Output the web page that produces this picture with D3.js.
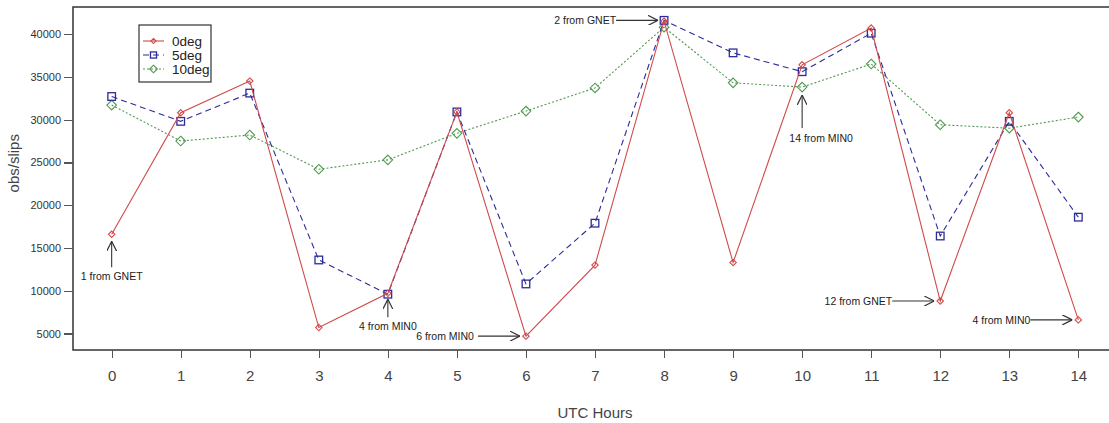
<!DOCTYPE html>
<html>
<head>
  <meta charset="utf-8" />
  <title>obs/slips by UTC hour</title>
  <script src="https://d3js.org/d3.v7.min.js"></script>
  <style>
    body { margin: 0; background: #fff; }
    svg { display: block; font-family: "Liberation Sans", Arial, sans-serif; }
    .axis path, .axis line { stroke: #555; stroke-width: 1.2; shape-rendering: crispEdges; }
    .axis text { fill: #333; }
  </style>
</head>
<body>
<div id="chart"></div>
<script>
  // data
  var hours = [0, 1, 2, 3, 4, 5, 6, 7, 8, 9, 10, 11, 12, 13, 14];
  var deg0  = [16600, 30800, 34500, 5700, 9700, 30900, 4700, 13000, 41500, 13300, 36400, 40700, 8800, 30800, 6600];
  var deg5  = [32700, 29800, 33100, 13600, 9600, 30900, 10800, 17900, 41600, 37800, 35600, 40100, 16400, 29800, 18600];
  var deg10 = [31700, 27500, 28200, 24200, 25300, 28400, 31000, 33700, 40800, 34300, 33800, 36500, 29400, 29000, 30300];
  var yTicks = [5000, 10000, 15000, 20000, 25000, 30000, 35000, 40000];
  var seriesNames = ["0deg", "5deg", "10deg"];

  // annotations: label, target point, where the arrow comes from
  // (below: tip/tail/text offsets in px; left: gap between text and arrow tail)
  var notes = [
    { label: "1 from GNET",  hour: 0,  value: 16600, dir: "below", tip: 7, tail: 33, text: 46, dx: 0 },
    { label: "4 from MIN0",  hour: 4,  value: 9600,  dir: "below", tip: 5, tail: 23, text: 36, dx: 0 },
    { label: "6 from MIN0",  hour: 6,  value: 4700,  dir: "left",  gap: 4 },
    { label: "2 from GNET",  hour: 8,  value: 41600, dir: "left",  gap: 0 },
    { label: "14 from MIN0", hour: 10, value: 33800, dir: "below", tip: 8, tail: 41, text: 55, dx: 19 },
    { label: "12 from GNET", hour: 12, value: 8800,  dir: "left",  gap: 0 },
    { label: "4 from MIN0",  hour: 14, value: 6600,  dir: "left",  gap: 0 }
  ];

  var width = 1109, height = 423;
  var margin = { top: 7, left: 73, bottom: 73 };

  var svg = d3.select("#chart").append("svg")
    .attr("width", width)
    .attr("height", height);

  var x = d3.scaleLinear().domain([-0.56, 14.56]).range([margin.left, 1117]);
  var y = d3.scaleLinear().domain([3080, 43160]).range([height - margin.bottom, margin.top]);

  // plot box
  svg.append("rect")
    .attr("x", x(-0.56)).attr("y", y(43160))
    .attr("width", x(14.56) - x(-0.56))
    .attr("height", y(3080) - y(43160))
    .attr("fill", "none").attr("stroke", "#333").attr("stroke-width", 1.5);

  // axes, R style: detached from box
  var yAxis = d3.axisLeft(y).tickValues(yTicks).tickSize(9).tickPadding(3).tickFormat(d3.format("d"));
  svg.append("g")
    .attr("class", "axis")
    .attr("transform", "translate(" + margin.left + ",0)")
    .call(yAxis)
    .call(function (g) { g.select(".domain").remove(); })
    .selectAll("text").style("font-size", "11px");

  var xAxis = d3.axisBottom(x).tickValues(hours).tickSize(8).tickPadding(12);
  svg.append("g")
    .attr("class", "axis")
    .attr("transform", "translate(0," + (height - margin.bottom) + ")")
    .call(xAxis)
    .call(function (g) { g.select(".domain").remove(); })
    .selectAll("text").style("font-size", "15px").style("fill", "#444");

  svg.append("text")
    .attr("x", x(7)).attr("y", 418)
    .attr("text-anchor", "middle")
    .style("font-size", "15px").style("fill", "#444")
    .text("UTC Hours");

  svg.append("text")
    .attr("transform", "translate(19," + y(24900) + ") rotate(-90)")
    .attr("text-anchor", "middle")
    .style("font-size", "15px").style("fill", "#444")
    .text("obs/slips");

  var series = [
    { name: seriesNames[0], values: deg0,  color: "#d04a4a", dash: null,  shape: "diamond", size: 3.2 },
    { name: seriesNames[1], values: deg5,  color: "#2b2b9a", dash: "6,4", shape: "square",  size: 3.8 },
    { name: seriesNames[2], values: deg10, color: "#4f9a4f", dash: "2,2", shape: "diamond", size: 4.8 }
  ];

  function marker(g, s, cx, cy) {
    if (s.shape === "square") {
      g.append("rect")
        .attr("x", cx - s.size).attr("y", cy - s.size)
        .attr("width", s.size * 2).attr("height", s.size * 2)
        .attr("fill", "none").attr("stroke", s.color).attr("stroke-width", 1.3);
    } else {
      var r = s.size;
      g.append("path")
        .attr("d", "M" + cx + "," + (cy - r) + "L" + (cx + r) + "," + cy + "L" + cx + "," + (cy + r) + "L" + (cx - r) + "," + cy + "Z")
        .attr("fill", "none").attr("stroke", s.color).attr("stroke-width", 1.1);
    }
  }

  var line = d3.line()
    .x(function (d, i) { return x(hours[i]); })
    .y(function (d) { return y(d); });

  // draw 10deg first so red sits on top
  series.slice().reverse().forEach(function (s) {
    svg.append("path")
      .datum(s.values)
      .attr("fill", "none")
      .attr("stroke", s.color)
      .attr("stroke-width", 1.1)
      .attr("stroke-dasharray", s.dash)
      .attr("d", line);
    var g = svg.append("g");
    s.values.forEach(function (v, i) { marker(g, s, x(hours[i]), y(v)); });
  });

  // legend
  var leg = svg.append("g").attr("transform", "translate(139,25)");
  leg.append("rect")
    .attr("width", 72).attr("height", 57)
    .attr("fill", "#fff").attr("stroke", "#333").attr("stroke-width", 1.2);
  series.forEach(function (s, i) {
    var ly = 16 + i * 14;
    leg.append("line")
      .attr("x1", 4).attr("x2", 25).attr("y1", ly).attr("y2", ly)
      .attr("stroke", s.color).attr("stroke-width", 1.1)
      .attr("stroke-dasharray", s.dash);
    marker(leg, { shape: s.shape, color: s.color, size: s.size * 0.8 }, 14.5, ly);
    leg.append("text")
      .attr("x", 33).attr("y", ly + 5)
      .style("font-size", "13.5px").style("fill", "#222")
      .text(s.name);
  });

  // arrows
  var defs = svg.append("defs");
  defs.append("marker")
    .attr("id", "head")
    .attr("viewBox", "0 0 10 10")
    .attr("refX", 10).attr("refY", 5)
    .attr("markerWidth", 10).attr("markerHeight", 10)
    .attr("markerUnits", "userSpaceOnUse")
    .attr("orient", "auto")
    .append("path")
    .attr("d", "M0,0L10,5L0,10")
    .attr("fill", "none").attr("stroke", "#333").attr("stroke-width", 1.2);

  var ann = svg.append("g").style("font-size", "10.5px").style("fill", "#222");
  notes.forEach(function (n) {
    var px = x(n.hour), py = y(n.value);
    if (n.dir === "below") {
      ann.append("line")
        .attr("x1", px).attr("y1", py + n.tail).attr("x2", px).attr("y2", py + n.tip)
        .attr("stroke", "#333").attr("stroke-width", 1.1)
        .attr("marker-end", "url(#head)");
      ann.append("text")
        .attr("x", px + n.dx).attr("y", py + n.text)
        .attr("text-anchor", "middle")
        .text(n.label);
    } else {
      ann.append("line")
        .attr("x1", px - 48).attr("y1", py).attr("x2", px - 6).attr("y2", py)
        .attr("stroke", "#333").attr("stroke-width", 1.1)
        .attr("marker-end", "url(#head)");
      ann.append("text")
        .attr("x", px - 48 - n.gap).attr("y", py + 4)
        .attr("text-anchor", "end")
        .text(n.label);
    }
  });
</script>
</body>
</html>
